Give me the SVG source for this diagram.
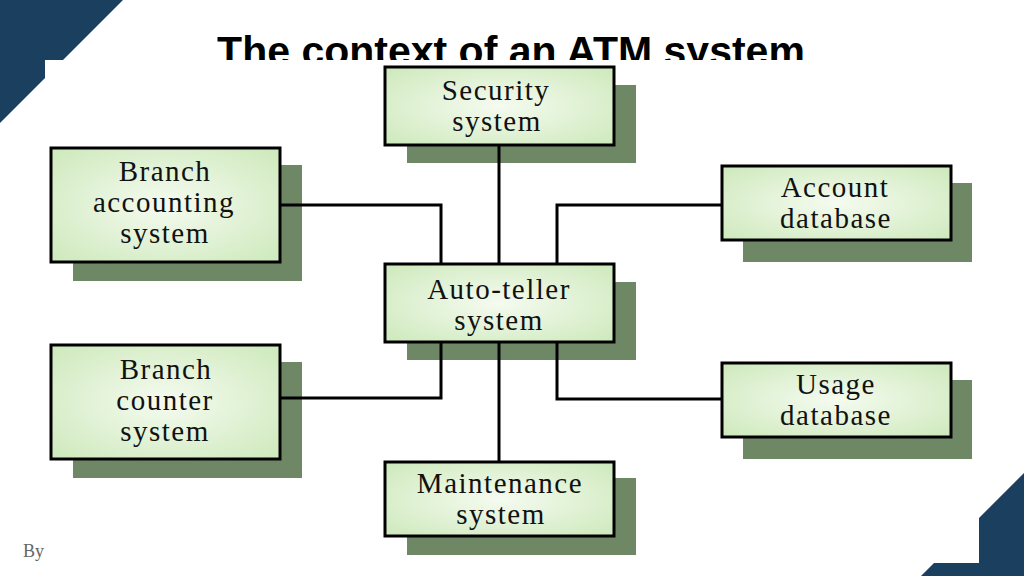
<svg xmlns="http://www.w3.org/2000/svg" width="1024" height="576" viewBox="0 0 1024 576">
  <defs>
    <radialGradient id="g" cx="50%" cy="50%" r="65%">
      <stop offset="0" stop-color="#f5fbf0"/>
      <stop offset="1" stop-color="#d0eabf"/>
    </radialGradient>
    <clipPath id="titleClip">
      <rect x="0" y="0" width="1024" height="60"/>
    </clipPath>
  </defs>
  <style>
    .box { fill: url(#g); stroke: #000; stroke-width: 3; }
    .sh { fill: #6e8866; }
    .lbl { font-family: "Liberation Serif", "Times New Roman", serif; font-size: 29px; letter-spacing: 1.5px; fill: #111; text-anchor: middle; }
    .conn { fill: none; stroke: #000; stroke-width: 3; }
    .title { font-family: "Liberation Sans", Arial, sans-serif; font-weight: bold; font-size: 41px; fill: #000; text-anchor: middle; }
  </style>
  <rect width="1024" height="576" fill="#fff"/>
  <polygon points="0,0 123,0 0,123" fill="#1b3f5e"/>
  <polygon points="1024,473 1024,576 921,576" fill="#1b3f5e"/>
  <g clip-path="url(#titleClip)">
    <text class="title" x="511" y="65">The context of an ATM system</text>
  </g>
  <text x="23" y="557" font-family="Liberation Serif, serif" font-size="18" fill="#666">By</text>
  <rect x="45" y="60" width="934" height="503" fill="#fff"/>

  <g id="security">
    <rect class="sh" x="407" y="85" width="229" height="78"/>
    <rect class="box" x="385" y="67" width="229" height="78"/>
    <text class="lbl" x="496" y="100">Security</text>
    <text class="lbl" x="497" y="131">system</text>
  </g>
  <g id="branch-accounting">
    <rect class="sh" x="73" y="165" width="229" height="116"/>
    <rect class="box" x="51" y="148" width="229" height="114"/>
    <text class="lbl" x="165" y="181">Branch</text>
    <text class="lbl" x="164" y="212">accounting</text>
    <text class="lbl" x="165" y="243">system</text>
  </g>
  <g id="account-database">
    <rect class="sh" x="743" y="183" width="229" height="79"/>
    <rect class="box" x="722" y="166" width="229" height="74"/>
    <text class="lbl" x="835" y="197">Account</text>
    <text class="lbl" x="836" y="228">database</text>
  </g>
  <g id="auto-teller">
    <rect class="sh" x="407" y="282" width="229" height="78"/>
    <rect class="box" x="385" y="264" width="229" height="78"/>
    <text class="lbl" x="499" y="299">Auto-teller</text>
    <text class="lbl" x="499" y="330">system</text>
  </g>
  <g id="branch-counter">
    <rect class="sh" x="73" y="362" width="229" height="116"/>
    <rect class="box" x="51" y="345" width="229" height="114"/>
    <text class="lbl" x="166" y="379">Branch</text>
    <text class="lbl" x="165" y="410">counter</text>
    <text class="lbl" x="165" y="441">system</text>
  </g>
  <g id="usage-database">
    <rect class="sh" x="743" y="380" width="229" height="79"/>
    <rect class="box" x="722" y="363" width="229" height="74"/>
    <text class="lbl" x="836" y="394">Usage</text>
    <text class="lbl" x="836" y="425">database</text>
  </g>
  <g id="maintenance">
    <rect class="sh" x="407" y="478" width="229" height="77"/>
    <rect class="box" x="385" y="462" width="229" height="74"/>
    <text class="lbl" x="500" y="493">Maintenance</text>
    <text class="lbl" x="501" y="524">system</text>
  </g>

  <g id="connectors">
    <line class="conn" x1="499" y1="146" x2="499" y2="263"/>
    <polyline class="conn" points="281,205 441,205 441,263"/>
    <polyline class="conn" points="721,205 557,205 557,263"/>
    <polyline class="conn" points="281,398 441,398 441,343"/>
    <polyline class="conn" points="721,399 557,399 557,343"/>
    <line class="conn" x1="499" y1="343" x2="499" y2="461"/>
  </g>
</svg>
